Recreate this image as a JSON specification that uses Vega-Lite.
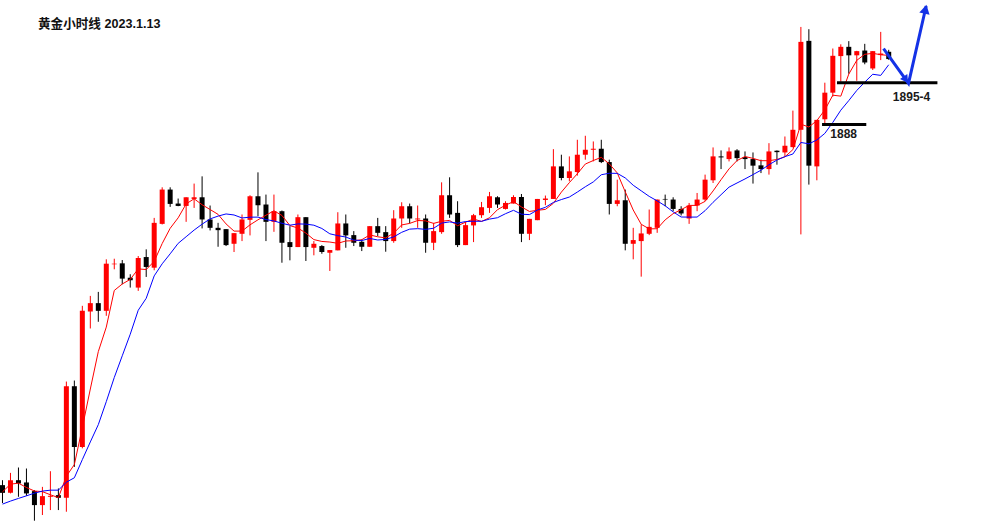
{
  "$schema": "https://vega.github.io/schema/vega-lite/v6.json",
  "width": 994,
  "height": 527,
  "autosize": {"type": "fit", "contains": "padding"},
  "padding": 0,
  "background": "#ffffff",
  "config": {"view": {"stroke": null}},
  "datasets": {
    "k": [
      {"t":0,"o":1827.67,"h":1828.5,"l":1824.67,"c":1826.38,"m5":1826.55,"m10":1824.5},
      {"t":1,"o":1826.38,"h":1829.72,"l":1826.28,"c":1828.5,"m5":1827.83,"m10":1825.0},
      {"t":2,"o":1828.5,"h":1830.62,"l":1825.72,"c":1827.95,"m5":1828.0,"m10":1825.45},
      {"t":3,"o":1828.12,"h":1830.45,"l":1825.88,"c":1826.28,"m5":1827.28,"m10":1825.88},
      {"t":4,"o":1826.67,"h":1826.83,"l":1821.72,"c":1824.33,"m5":1826.69,"m10":1826.33},
      {"t":5,"o":1824.33,"h":1827.38,"l":1822.67,"c":1825.83,"m5":1826.58,"m10":1826.67},
      {"t":6,"o":1825.72,"h":1830.0,"l":1823.5,"c":1825.88,"m5":1826.06,"m10":1826.83},
      {"t":7,"o":1826.0,"h":1827.12,"l":1823.5,"c":1825.55,"m5":1825.58,"m10":1826.83},
      {"t":8,"o":1825.55,"h":1845.0,"l":1823.22,"c":1844.22,"m5":1829.16,"m10":1828.17},
      {"t":9,"o":1844.22,"h":1845.17,"l":1830.72,"c":1834.05,"m5":1831.11,"m10":1828.9},
      {"t":10,"o":1834.05,"h":1857.67,"l":1833.83,"c":1856.83,"m5":1837.31,"m10":1831.94},
      {"t":11,"o":1856.72,"h":1859.33,"l":1853.88,"c":1858.12,"m5":1843.75,"m10":1834.9},
      {"t":12,"o":1858.12,"h":1860.0,"l":1855.0,"c":1856.83,"m5":1850.01,"m10":1837.79},
      {"t":13,"o":1856.83,"h":1865.45,"l":1856.0,"c":1864.72,"m5":1854.11,"m10":1841.64},
      {"t":14,"o":1864.62,"h":1865.55,"l":1863.78,"c":1864.72,"m5":1860.24,"m10":1845.68},
      {"t":15,"o":1864.78,"h":1865.33,"l":1861.28,"c":1862.22,"m5":1861.32,"m10":1849.31},
      {"t":16,"o":1862.38,"h":1862.95,"l":1860.72,"c":1861.95,"m5":1862.09,"m10":1852.92},
      {"t":17,"o":1860.72,"h":1866.0,"l":1860.17,"c":1865.67,"m5":1863.85,"m10":1856.93},
      {"t":18,"o":1865.83,"h":1867.12,"l":1862.5,"c":1864.17,"m5":1863.74,"m10":1858.93},
      {"t":19,"o":1864.05,"h":1872.38,"l":1863.62,"c":1871.55,"m5":1865.11,"m10":1862.68},
      {"t":20,"o":1871.38,"h":1877.5,"l":1871.28,"c":1877.12,"m5":1868.09,"m10":1864.7},
      {"t":21,"o":1877.12,"h":1877.5,"l":1874.22,"c":1874.72,"m5":1870.64,"m10":1866.37},
      {"t":22,"o":1874.78,"h":1875.62,"l":1874.33,"c":1874.38,"m5":1872.39,"m10":1868.12},
      {"t":23,"o":1874.38,"h":1875.83,"l":1871.72,"c":1875.83,"m5":1874.72,"m10":1869.23},
      {"t":24,"o":1875.55,"h":1878.12,"l":1874.05,"c":1875.83,"m5":1875.58,"m10":1870.34},
      {"t":25,"o":1875.83,"h":1879.33,"l":1870.62,"c":1872.12,"m5":1874.58,"m10":1871.33},
      {"t":26,"o":1872.12,"h":1874.45,"l":1870.28,"c":1870.72,"m5":1873.78,"m10":1872.21},
      {"t":27,"o":1870.72,"h":1871.55,"l":1867.55,"c":1870.33,"m5":1872.97,"m10":1872.68},
      {"t":28,"o":1870.5,"h":1870.5,"l":1867.67,"c":1867.83,"m5":1871.37,"m10":1873.04},
      {"t":29,"o":1868.05,"h":1869.83,"l":1866.67,"c":1869.83,"m5":1870.17,"m10":1872.87},
      {"t":30,"o":1869.72,"h":1872.95,"l":1868.5,"c":1872.12,"m5":1870.17,"m10":1872.37},
      {"t":31,"o":1872.05,"h":1876.17,"l":1869.45,"c":1876.0,"m5":1871.22,"m10":1872.5},
      {"t":32,"o":1876.0,"h":1880.0,"l":1872.67,"c":1874.5,"m5":1872.06,"m10":1872.51},
      {"t":33,"o":1874.62,"h":1876.28,"l":1868.5,"c":1871.72,"m5":1872.83,"m10":1872.1},
      {"t":34,"o":1871.72,"h":1876.28,"l":1870.05,"c":1873.5,"m5":1873.57,"m10":1871.87},
      {"t":35,"o":1873.5,"h":1873.62,"l":1864.88,"c":1868.22,"m5":1872.79,"m10":1871.48},
      {"t":36,"o":1868.33,"h":1871.0,"l":1865.28,"c":1867.5,"m5":1871.09,"m10":1871.16},
      {"t":37,"o":1867.5,"h":1872.95,"l":1867.5,"c":1872.5,"m5":1870.69,"m10":1871.37},
      {"t":38,"o":1872.5,"h":1872.5,"l":1865.17,"c":1867.5,"m5":1869.84,"m10":1871.34},
      {"t":39,"o":1867.38,"h":1868.5,"l":1866.12,"c":1868.05,"m5":1868.75,"m10":1871.16},
      {"t":40,"o":1867.67,"h":1867.83,"l":1866.38,"c":1866.67,"m5":1868.44,"m10":1870.61},
      {"t":41,"o":1866.55,"h":1867.0,"l":1863.5,"c":1867.0,"m5":1868.34,"m10":1869.72},
      {"t":42,"o":1866.95,"h":1873.33,"l":1866.95,"c":1871.45,"m5":1868.13,"m10":1869.41},
      {"t":43,"o":1871.45,"h":1872.95,"l":1867.38,"c":1869.45,"m5":1868.52,"m10":1869.18},
      {"t":44,"o":1869.5,"h":1870.17,"l":1867.67,"c":1868.22,"m5":1868.56,"m10":1868.66},
      {"t":45,"o":1868.38,"h":1868.78,"l":1866.83,"c":1867.55,"m5":1868.73,"m10":1868.59},
      {"t":46,"o":1867.55,"h":1871.0,"l":1867.55,"c":1871.0,"m5":1869.53,"m10":1868.94},
      {"t":47,"o":1871.0,"h":1872.38,"l":1869.33,"c":1869.88,"m5":1869.22,"m10":1868.68},
      {"t":48,"o":1870.0,"h":1871.0,"l":1866.72,"c":1868.5,"m5":1869.03,"m10":1868.78},
      {"t":49,"o":1868.5,"h":1873.67,"l":1868.22,"c":1872.28,"m5":1869.84,"m10":1869.2},
      {"t":50,"o":1872.28,"h":1875.0,"l":1870.72,"c":1874.33,"m5":1871.2,"m10":1869.97},
      {"t":51,"o":1874.33,"h":1874.78,"l":1871.45,"c":1872.28,"m5":1871.46,"m10":1870.5},
      {"t":52,"o":1872.12,"h":1874.45,"l":1870.72,"c":1872.28,"m5":1871.94,"m10":1870.58},
      {"t":53,"o":1872.28,"h":1872.95,"l":1866.55,"c":1868.22,"m5":1871.88,"m10":1870.46},
      {"t":54,"o":1868.22,"h":1871.55,"l":1867.0,"c":1870.17,"m5":1871.46,"m10":1870.65},
      {"t":55,"o":1870.0,"h":1878.33,"l":1869.72,"c":1876.17,"m5":1871.82,"m10":1871.51},
      {"t":56,"o":1876.17,"h":1879.17,"l":1872.38,"c":1872.95,"m5":1871.96,"m10":1871.71},
      {"t":57,"o":1873.22,"h":1875.17,"l":1867.5,"c":1867.83,"m5":1871.07,"m10":1871.5},
      {"t":58,"o":1867.83,"h":1871.72,"l":1867.83,"c":1871.17,"m5":1871.66,"m10":1871.77},
      {"t":59,"o":1871.12,"h":1873.05,"l":1868.33,"c":1872.83,"m5":1872.19,"m10":1871.82},
      {"t":60,"o":1872.83,"h":1875.05,"l":1872.38,"c":1874.17,"m5":1871.79,"m10":1871.81},
      {"t":61,"o":1874.05,"h":1876.72,"l":1873.22,"c":1876.0,"m5":1872.4,"m10":1872.18},
      {"t":62,"o":1875.83,"h":1876.0,"l":1874.05,"c":1874.62,"m5":1873.76,"m10":1872.41},
      {"t":63,"o":1873.88,"h":1875.17,"l":1873.78,"c":1874.88,"m5":1874.5,"m10":1873.08},
      {"t":64,"o":1874.78,"h":1876.17,"l":1874.78,"c":1875.88,"m5":1875.11,"m10":1873.65},
      {"t":65,"o":1875.88,"h":1876.38,"l":1868.33,"c":1869.72,"m5":1874.22,"m10":1873.0},
      {"t":66,"o":1869.72,"h":1872.22,"l":1868.67,"c":1872.22,"m5":1873.46,"m10":1872.93},
      {"t":67,"o":1872.0,"h":1875.55,"l":1872.0,"c":1875.55,"m5":1873.65,"m10":1873.7},
      {"t":68,"o":1875.38,"h":1876.12,"l":1874.5,"c":1875.62,"m5":1873.8,"m10":1874.15},
      {"t":69,"o":1875.55,"h":1883.88,"l":1875.55,"c":1881.0,"m5":1874.82,"m10":1874.97},
      {"t":70,"o":1881.0,"h":1882.95,"l":1878.67,"c":1879.05,"m5":1876.69,"m10":1875.45},
      {"t":71,"o":1879.05,"h":1882.67,"l":1878.5,"c":1880.17,"m5":1878.28,"m10":1875.87},
      {"t":72,"o":1880.05,"h":1885.45,"l":1879.45,"c":1882.95,"m5":1879.76,"m10":1876.7},
      {"t":73,"o":1882.95,"h":1886.12,"l":1882.12,"c":1883.78,"m5":1881.39,"m10":1877.59},
      {"t":74,"o":1883.78,"h":1885.17,"l":1881.83,"c":1883.95,"m5":1881.98,"m10":1878.4},
      {"t":75,"o":1883.95,"h":1885.45,"l":1881.55,"c":1881.72,"m5":1882.51,"m10":1879.6},
      {"t":76,"o":1881.72,"h":1882.12,"l":1872.95,"c":1874.72,"m5":1881.42,"m10":1879.85},
      {"t":77,"o":1874.72,"h":1878.78,"l":1874.33,"c":1875.33,"m5":1879.9,"m10":1879.83},
      {"t":78,"o":1875.33,"h":1877.12,"l":1866.95,"c":1868.05,"m5":1876.75,"m10":1879.07},
      {"t":79,"o":1868.05,"h":1870.72,"l":1865.45,"c":1868.67,"m5":1873.7,"m10":1877.84},
      {"t":80,"o":1868.5,"h":1871.28,"l":1862.55,"c":1869.78,"m5":1871.31,"m10":1876.91},
      {"t":81,"o":1869.72,"h":1873.78,"l":1869.5,"c":1870.88,"m5":1870.54,"m10":1875.98},
      {"t":82,"o":1870.72,"h":1875.45,"l":1869.88,"c":1875.45,"m5":1870.57,"m10":1875.23},
      {"t":83,"o":1875.55,"h":1876.28,"l":1874.33,"c":1875.45,"m5":1872.05,"m10":1874.4},
      {"t":84,"o":1875.45,"h":1875.83,"l":1873.5,"c":1873.88,"m5":1873.09,"m10":1873.39},
      {"t":85,"o":1873.88,"h":1874.33,"l":1872.78,"c":1873.12,"m5":1873.76,"m10":1872.53},
      {"t":86,"o":1872.28,"h":1874.88,"l":1871.38,"c":1874.45,"m5":1874.47,"m10":1872.51},
      {"t":87,"o":1874.45,"h":1876.55,"l":1873.5,"c":1875.45,"m5":1874.47,"m10":1872.52},
      {"t":88,"o":1875.45,"h":1879.62,"l":1875.17,"c":1878.78,"m5":1875.14,"m10":1873.59},
      {"t":89,"o":1878.67,"h":1884.17,"l":1878.22,"c":1882.67,"m5":1876.89,"m10":1874.99},
      {"t":90,"o":1882.67,"h":1883.67,"l":1880.55,"c":1882.5,"m5":1878.77,"m10":1876.26},
      {"t":91,"o":1882.22,"h":1884.17,"l":1881.83,"c":1883.5,"m5":1880.58,"m10":1877.53},
      {"t":92,"o":1883.67,"h":1883.88,"l":1881.83,"c":1882.38,"m5":1881.97,"m10":1878.22},
      {"t":93,"o":1882.55,"h":1883.5,"l":1880.55,"c":1882.22,"m5":1882.65,"m10":1878.9},
      {"t":94,"o":1882.22,"h":1883.33,"l":1878.12,"c":1881.12,"m5":1882.34,"m10":1879.62},
      {"t":95,"o":1881.17,"h":1882.12,"l":1879.88,"c":1880.55,"m5":1881.95,"m10":1880.36},
      {"t":96,"o":1880.55,"h":1884.88,"l":1879.62,"c":1883.5,"m5":1881.95,"m10":1881.27},
      {"t":97,"o":1883.62,"h":1883.67,"l":1881.28,"c":1883.38,"m5":1882.15,"m10":1882.06},
      {"t":98,"o":1883.33,"h":1886.0,"l":1882.67,"c":1884.45,"m5":1882.6,"m10":1882.63},
      {"t":99,"o":1884.22,"h":1890.33,"l":1884.17,"c":1887.12,"m5":1883.8,"m10":1883.07},
      {"t":100,"o":1887.12,"h":1904.33,"l":1869.62,"c":1901.83,"m5":1888.06,"m10":1885.0},
      {"t":101,"o":1902.0,"h":1903.95,"l":1877.95,"c":1881.12,"m5":1887.58,"m10":1884.77},
      {"t":102,"o":1881.0,"h":1888.78,"l":1878.67,"c":1888.78,"m5":1888.66,"m10":1885.41},
      {"t":103,"o":1888.88,"h":1895.0,"l":1888.22,"c":1893.33,"m5":1890.44,"m10":1886.52},
      {"t":104,"o":1893.33,"h":1900.72,"l":1892.67,"c":1899.5,"m5":1892.91,"m10":1888.36},
      {"t":105,"o":1899.45,"h":1901.42,"l":1895.17,"c":1901.0,"m5":1892.75,"m10":1890.4},
      {"t":106,"o":1901.0,"h":1901.95,"l":1896.5,"c":1899.58,"m5":1896.44,"m10":1892.01},
      {"t":107,"o":1899.58,"h":1900.33,"l":1895.33,"c":1900.28,"m5":1898.74,"m10":1893.7},
      {"t":108,"o":1900.38,"h":1901.5,"l":1898.08,"c":1898.38,"m5":1899.75,"m10":1895.09},
      {"t":109,"o":1897.38,"h":1900.28,"l":1897.12,"c":1900.28,"m5":1899.91,"m10":1896.41},
      {"t":110,"o":1899.62,"h":1903.5,"l":1898.78,"c":1899.88,"m5":1899.68,"m10":1896.22},
      {"t":111,"o":1900.17,"h":1900.5,"l":1898.83,"c":1898.95,"m5":1899.56,"m10":1898.0}
    ],
    "levels": [
      {"t1":102.65,"t2":108.19,"p":1888.0},
      {"t1":104.52,"t2":117.1,"p":1894.97}
    ],
    "arrow": [
      {"t":110.35,"p":1900.72},
      {"t":113.48,"p":1894.88},
      {"t":115.69,"p":1907.83}
    ],
    "heads": [
      {"name":"up","t":115.6,"p":1907.3},
      {"name":"down","t":113.15,"p":1895.5}
    ],
    "title": [
      {"t":4.44,"p":1904.17,"label":"黄金小时线 2023.1.13"}
    ],
    "labels": [
      {"t":103.69,"p":1885.72,"label":"1888"},
      {"t":111.52,"p":1892.0,"label":"1895-4"}
    ]
  },
  "layer": [
    {
      "data": {"name": "k"},
      "mark": {"type": "rule", "strokeWidth": 1},
      "encoding": {
        "x": {"field": "t", "type": "quantitative", "scale": {"domain": [-0.0625, 124.1875], "nice": false, "zero": false, "padding": 0}, "axis": null},
        "y": {"field": "l", "type": "quantitative", "scale": {"domain": [1820.6667, 1908.5], "nice": false, "zero": false, "padding": 0}, "axis": null},
        "y2": {"field": "h"},
        "color": {"condition": {"test": "datum.c > datum.o", "value": "#ff0000"}, "value": "#000000"}
      }
    },
    {
      "data": {"name": "k"},
      "mark": {"type": "bar", "size": 5},
      "encoding": {
        "x": {"field": "t", "type": "quantitative"},
        "y": {"field": "o", "type": "quantitative"},
        "y2": {"field": "c"},
        "color": {"condition": {"test": "datum.c > datum.o", "value": "#ff0000"}, "value": "#000000"}
      }
    },
    {
      "data": {"name": "k"},
      "mark": {"type": "line", "color": "#ff0000", "strokeWidth": 1},
      "encoding": {
        "x": {"field": "t", "type": "quantitative"},
        "y": {"field": "m5", "type": "quantitative"}
      }
    },
    {
      "data": {"name": "k"},
      "mark": {"type": "line", "color": "#0000ff", "strokeWidth": 1},
      "encoding": {
        "x": {"field": "t", "type": "quantitative"},
        "y": {"field": "m10", "type": "quantitative"}
      }
    },
    {
      "data": {"name": "levels"},
      "mark": {"type": "rule", "color": "#000000", "strokeWidth": 3},
      "encoding": {
        "x": {"field": "t1", "type": "quantitative"},
        "x2": {"field": "t2"},
        "y": {"field": "p", "type": "quantitative"}
      }
    },
    {
      "data": {"name": "arrow"},
      "mark": {"type": "line", "color": "#1432e6", "strokeWidth": 3, "strokeJoin": "miter"},
      "encoding": {
        "x": {"field": "t", "type": "quantitative"},
        "y": {"field": "p", "type": "quantitative"},
        "order": {"field": "t", "type": "quantitative"}
      }
    },
    {
      "data": {"name": "heads"},
      "transform": [{"filter": "datum.name == 'up'"}],
      "mark": {"type": "point", "shape": "triangle-up", "filled": true, "color": "#1432e6", "size": 110, "angle": 13, "opacity": 1},
      "encoding": {
        "x": {"field": "t", "type": "quantitative"},
        "y": {"field": "p", "type": "quantitative"}
      }
    },
    {
      "data": {"name": "heads"},
      "transform": [{"filter": "datum.name == 'down'"}],
      "mark": {"type": "point", "shape": "triangle-up", "filled": true, "color": "#1432e6", "size": 80, "angle": 145, "opacity": 1},
      "encoding": {
        "x": {"field": "t", "type": "quantitative"},
        "y": {"field": "p", "type": "quantitative"}
      }
    },
    {
      "data": {"name": "title"},
      "mark": {"type": "text", "align": "left", "baseline": "alphabetic", "font": "Liberation Sans, Noto Sans CJK SC", "fontWeight": "bold", "fontSize": 12.6, "color": "#111111"},
      "encoding": {
        "x": {"field": "t", "type": "quantitative"},
        "y": {"field": "p", "type": "quantitative"},
        "text": {"field": "label"}
      }
    },
    {
      "data": {"name": "labels"},
      "mark": {"type": "text", "align": "left", "baseline": "alphabetic", "font": "Liberation Sans, Noto Sans CJK SC", "fontWeight": "bold", "fontSize": 12, "color": "#1a1a1a"},
      "encoding": {
        "x": {"field": "t", "type": "quantitative"},
        "y": {"field": "p", "type": "quantitative"},
        "text": {"field": "label"}
      }
    }
  ]
}
